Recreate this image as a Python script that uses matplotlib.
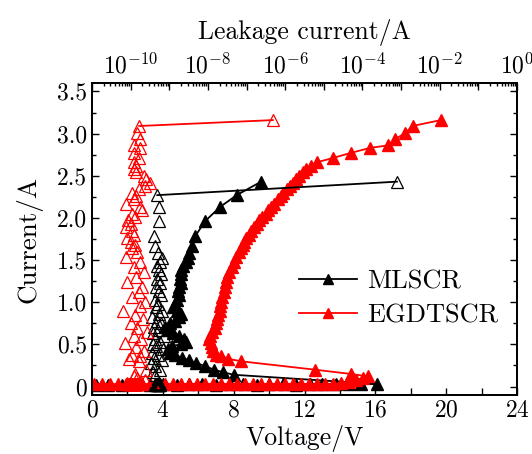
import matplotlib
matplotlib.use("Agg")
import matplotlib.pyplot as plt
from matplotlib.ticker import MultipleLocator, LogLocator, FuncFormatter, NullFormatter
import numpy as np

# MLSCR TLP curve (voltage in V, current in A)
ml_v = [0.2, 0.9, 1.7, 2.5, 3.3, 4.0, 4.8, 5.5, 6.2, 7.0, 7.8, 8.5, 9.3, 10.0, 10.8, 11.5,
        12.3, 13.0, 13.8, 14.5, 15.2, 16.1,
        8.0, 7.4, 6.9, 6.4, 5.9, 5.5, 5.1, 4.7, 4.4, 4.3,
        4.5, 5.0, 5.3, 5.2, 4.9, 4.6, 4.3, 4.1, 4.4, 4.7,
        4.9, 5.0, 4.8, 4.6, 4.7, 4.8, 4.9, 4.85, 4.9, 5.0,
        4.95, 5.0, 5.05, 5.15, 5.3, 5.4, 5.5, 5.63, 5.82, 6.38,
        7.23, 8.17, 9.55]
ml_i = [0.02, 0.02, 0.02, 0.03, 0.02, 0.03, 0.02, 0.03, 0.03, 0.02, 0.03, 0.03, 0.02, 0.03, 0.03, 0.02,
        0.03, 0.03, 0.03, 0.03, 0.03, 0.03,
        0.14, 0.17, 0.20, 0.24, 0.28, 0.31, 0.34, 0.37, 0.40, 0.44,
        0.48, 0.50, 0.53, 0.57, 0.60, 0.63, 0.67, 0.71, 0.75, 0.78,
        0.82, 0.86, 0.90, 0.94, 0.98, 1.03, 1.08, 1.13, 1.18, 1.23,
        1.28, 1.33, 1.38, 1.43, 1.48, 1.53, 1.58, 1.67, 1.78, 1.96,
        2.13, 2.27, 2.43]
# MLSCR leakage current (A) after each pulse
ml_leak = [5.0e-10, 4.6e-10, 5.3e-10, 4.8e-10, 5.6e-10, 4.4e-10, 5.1e-10, 4.9e-10, 5.8e-10, 4.7e-10,
           5.2e-10, 4.5e-10, 5.5e-10, 4.8e-10, 5.0e-10, 4.6e-10, 5.4e-10, 4.9e-10, 5.1e-10, 4.7e-10,
           5.3e-10, 5.0e-10,
           4.2e-10, 3.8e-10, 5.6e-10, 4.4e-10, 3.4e-10, 6.3e-10, 4.0e-10, 5.2e-10, 3.6e-10, 6.8e-10,
           4.6e-10, 3.9e-10, 5.9e-10, 4.3e-10, 7.2e-10, 3.7e-10, 5.0e-10, 4.1e-10, 6.1e-10, 4.8e-10,
           3.5e-10, 5.4e-10, 6.6e-10, 4.5e-10, 5.1e-10, 4.2e-10, 6.0e-10, 5.3e-10, 4.6e-10, 5.7e-10,
           4.9e-10, 6.2e-10, 5.5e-10, 4.7e-10, 5.8e-10, 6.4e-10, 5.2e-10, 4.3e-10, 4.1e-10, 5.4e-10,
           5.3e-10, 4.9e-10, 7.8e-4]

# EGDTSCR TLP curve
eg_v = [0.1, 0.55, 1.0, 1.45, 1.9, 2.35, 2.8, 3.25, 3.7, 4.15, 4.6, 5.05, 5.5, 5.95, 6.4, 6.85,
        7.3, 7.75, 8.2, 8.65, 9.1, 9.55, 10.0, 10.45, 10.9, 11.35, 11.8, 12.25, 12.7, 13.15, 13.6,
        14.05, 14.5, 14.9, 15.3, 15.6,
        14.6, 12.6, 8.4, 7.7,
        7.3, 7.0, 6.85, 6.75, 6.7, 6.6, 6.65, 6.8, 6.95, 7.0,
        7.05, 7.1, 7.2, 7.25, 7.3, 7.35, 7.45, 7.5, 7.55, 7.6,
        7.75, 7.9, 8.0, 8.15, 8.3, 8.4, 8.5, 8.6, 8.7, 8.85,
        9.0, 9.15, 9.3, 9.45, 9.6, 9.8, 9.95, 10.1, 10.3, 10.5,
        10.65, 10.8, 11.0, 11.2, 11.35, 11.5, 11.7, 11.9, 12.1, 12.35,
        12.7, 13.6, 14.6, 15.7, 16.7, 17.1, 17.7, 18.1, 19.7]
eg_i = [0.03, 0.03, 0.03, 0.03, 0.03, 0.03, 0.03, 0.03, 0.03, 0.03, 0.03, 0.03, 0.03, 0.03, 0.03, 0.03,
        0.03, 0.03, 0.03, 0.03, 0.03, 0.03, 0.03, 0.03, 0.03, 0.03, 0.03, 0.03, 0.03, 0.03, 0.03,
        0.04, 0.06, 0.08, 0.10, 0.12,
        0.15, 0.20, 0.30, 0.33,
        0.36, 0.38, 0.42, 0.47, 0.52, 0.56, 0.60, 0.65, 0.70, 0.75,
        0.80, 0.85, 0.90, 0.95, 1.00, 1.06, 1.12, 1.18, 1.24, 1.30,
        1.36, 1.42, 1.48, 1.54, 1.60, 1.64, 1.68, 1.72, 1.76, 1.80,
        1.85, 1.89, 1.93, 1.97, 2.01, 2.05, 2.09, 2.13, 2.17, 2.22,
        2.26, 2.30, 2.34, 2.38, 2.42, 2.46, 2.50, 2.54, 2.58, 2.62,
        2.66, 2.71, 2.77, 2.83, 2.86, 2.93, 3.01, 3.09, 3.16]
eg_leak = [1.2e-10, 0.9e-10, 1.5e-10, 1.1e-10, 1.3e-10, 0.8e-10, 1.4e-10, 1.0e-10, 1.6e-10, 1.2e-10,
           1.1e-10, 1.3e-10, 0.9e-10, 1.5e-10, 1.2e-10, 1.0e-10, 1.4e-10, 1.1e-10, 1.3e-10, 1.2e-10,
           0.9e-10, 1.5e-10, 1.1e-10, 1.3e-10, 1.0e-10, 1.4e-10, 1.2e-10, 1.1e-10, 1.6e-10, 1.0e-10,
           1.3e-10, 0.8e-10, 1.9e-10, 2.4e-10, 1.5e-10, 1.2e-10,
           1.3e-10, 2.5e-10, 1.6e-10, 0.9e-10,
           1.8e-10, 1.1e-10, 2.2e-10, 1.4e-10, 0.7e-10, 1.9e-10, 1.2e-10, 2.6e-10, 1.5e-10, 1.0e-10,
           2.1e-10, 1.3e-10, 0.65e-10, 1.7e-10, 2.4e-10, 1.1e-10, 1.6e-10, 2.0e-10, 0.8e-10, 1.4e-10,
           2.2e-10, 1.2e-10, 1.8e-10, 0.75e-10, 1.5e-10, 1.1e-10, 1.3e-10, 1.0e-10, 0.8e-10, 1.2e-10,
           1.1e-10, 0.75e-10, 1.0e-10, 0.85e-10, 1.3e-10, 1.1e-10, 2.0e-10, 1.7e-10, 0.75e-10, 1.2e-10,
           1.4e-10, 1.1e-10, 1.6e-10, 2.3e-10, 3.2e-10, 2.5e-10, 2.2e-10, 1.4e-10, 1.25e-10, 1.4e-10,
           1.25e-10, 1.6e-10, 1.25e-10, 1.8e-10, 1.25e-10, 1.8e-10, 1.5e-10, 1.66e-10, 4.8e-7]

plt.rcParams['font.family'] = 'cmr10'
plt.rcParams['mathtext.fontset'] = 'cm'
plt.rcParams['axes.formatter.use_mathtext'] = True

fig = plt.figure(figsize=(5.32, 4.54), dpi=100)
ax = fig.add_axes([92 / 532, 1 - 395 / 454, 425 / 532, 312 / 454])

ax.plot(ml_v, ml_i, color='black', lw=1.3, marker='^', ms=8, mec='black', label='MLSCR')
ax.plot(eg_v, eg_i, color='red', lw=1.3, marker='^', ms=8, mec='red', label='EGDTSCR')

ax.set_xlim(0, 24)
ax.set_ylim(-0.1, 3.6)
ax.xaxis.set_major_locator(MultipleLocator(4))
ax.xaxis.set_minor_locator(MultipleLocator(2))
ax.yaxis.set_major_locator(MultipleLocator(0.5))
ax.yaxis.set_minor_locator(MultipleLocator(0.25))
ax.yaxis.set_major_formatter(FuncFormatter(lambda v, p: '0' if abs(v) < 1e-9 else '%.1f' % v))
ax.tick_params(which='both', direction='in', right=True, top=False, width=1, labelsize=17)
ax.tick_params(which='major', length=5)
ax.tick_params(axis='x', which='minor', length=5)
ax.tick_params(axis='y', which='minor', length=3)
ax.set_xlabel('Voltage/V', fontsize=18.5, labelpad=2)
ax.set_ylabel('Current/A', fontsize=19.5, labelpad=10)

ax2 = ax.twiny()
# leakage points; only the last (failure) step shows a visible connecting line
ax2.plot(ml_leak, ml_i, ls='none', marker='^', ms=8, mfc='none', mec='black', mew=0.9)
ax2.plot(eg_leak, eg_i, ls='none', marker='^', ms=8, mfc='none', mec='red', mew=0.9)
ax2.plot(ml_leak[-2:], ml_i[-2:], color='black', lw=1.3)
ax2.plot(eg_leak[-2:], eg_i[-2:], color='red', lw=1.3)
ax2.set_xscale('log')
ax2.set_xlim(1e-11, 1)
ax2.xaxis.set_major_locator(LogLocator(base=10, numticks=20))
ax2.xaxis.set_minor_locator(LogLocator(base=10, subs=np.arange(2, 10), numticks=20))
ax2.xaxis.set_minor_formatter(NullFormatter())


def fmt_log(v, p):
    e = int(round(np.log10(v)))
    if e % 2 == 0:
        return r'$10^{%d}$' % e
    return ''


ax2.xaxis.set_major_formatter(FuncFormatter(fmt_log))
ax2.tick_params(which='both', direction='in', width=1, labelsize=17)
ax2.tick_params(which='major', length=5)
ax2.tick_params(which='minor', length=2.5)
ax2.set_xlabel('Leakage current/A', fontsize=18.5, labelpad=10)

for a in (ax, ax2):
    for s in a.spines.values():
        s.set_linewidth(1.3)

ax.legend(loc='center left', bbox_to_anchor=(0.43, 0.31), frameon=False, fontsize=19,
          handlelength=2.2, handletextpad=0.4, labelspacing=0.4, markerscale=0.85)

fig.savefig('out.png', dpi=100)
